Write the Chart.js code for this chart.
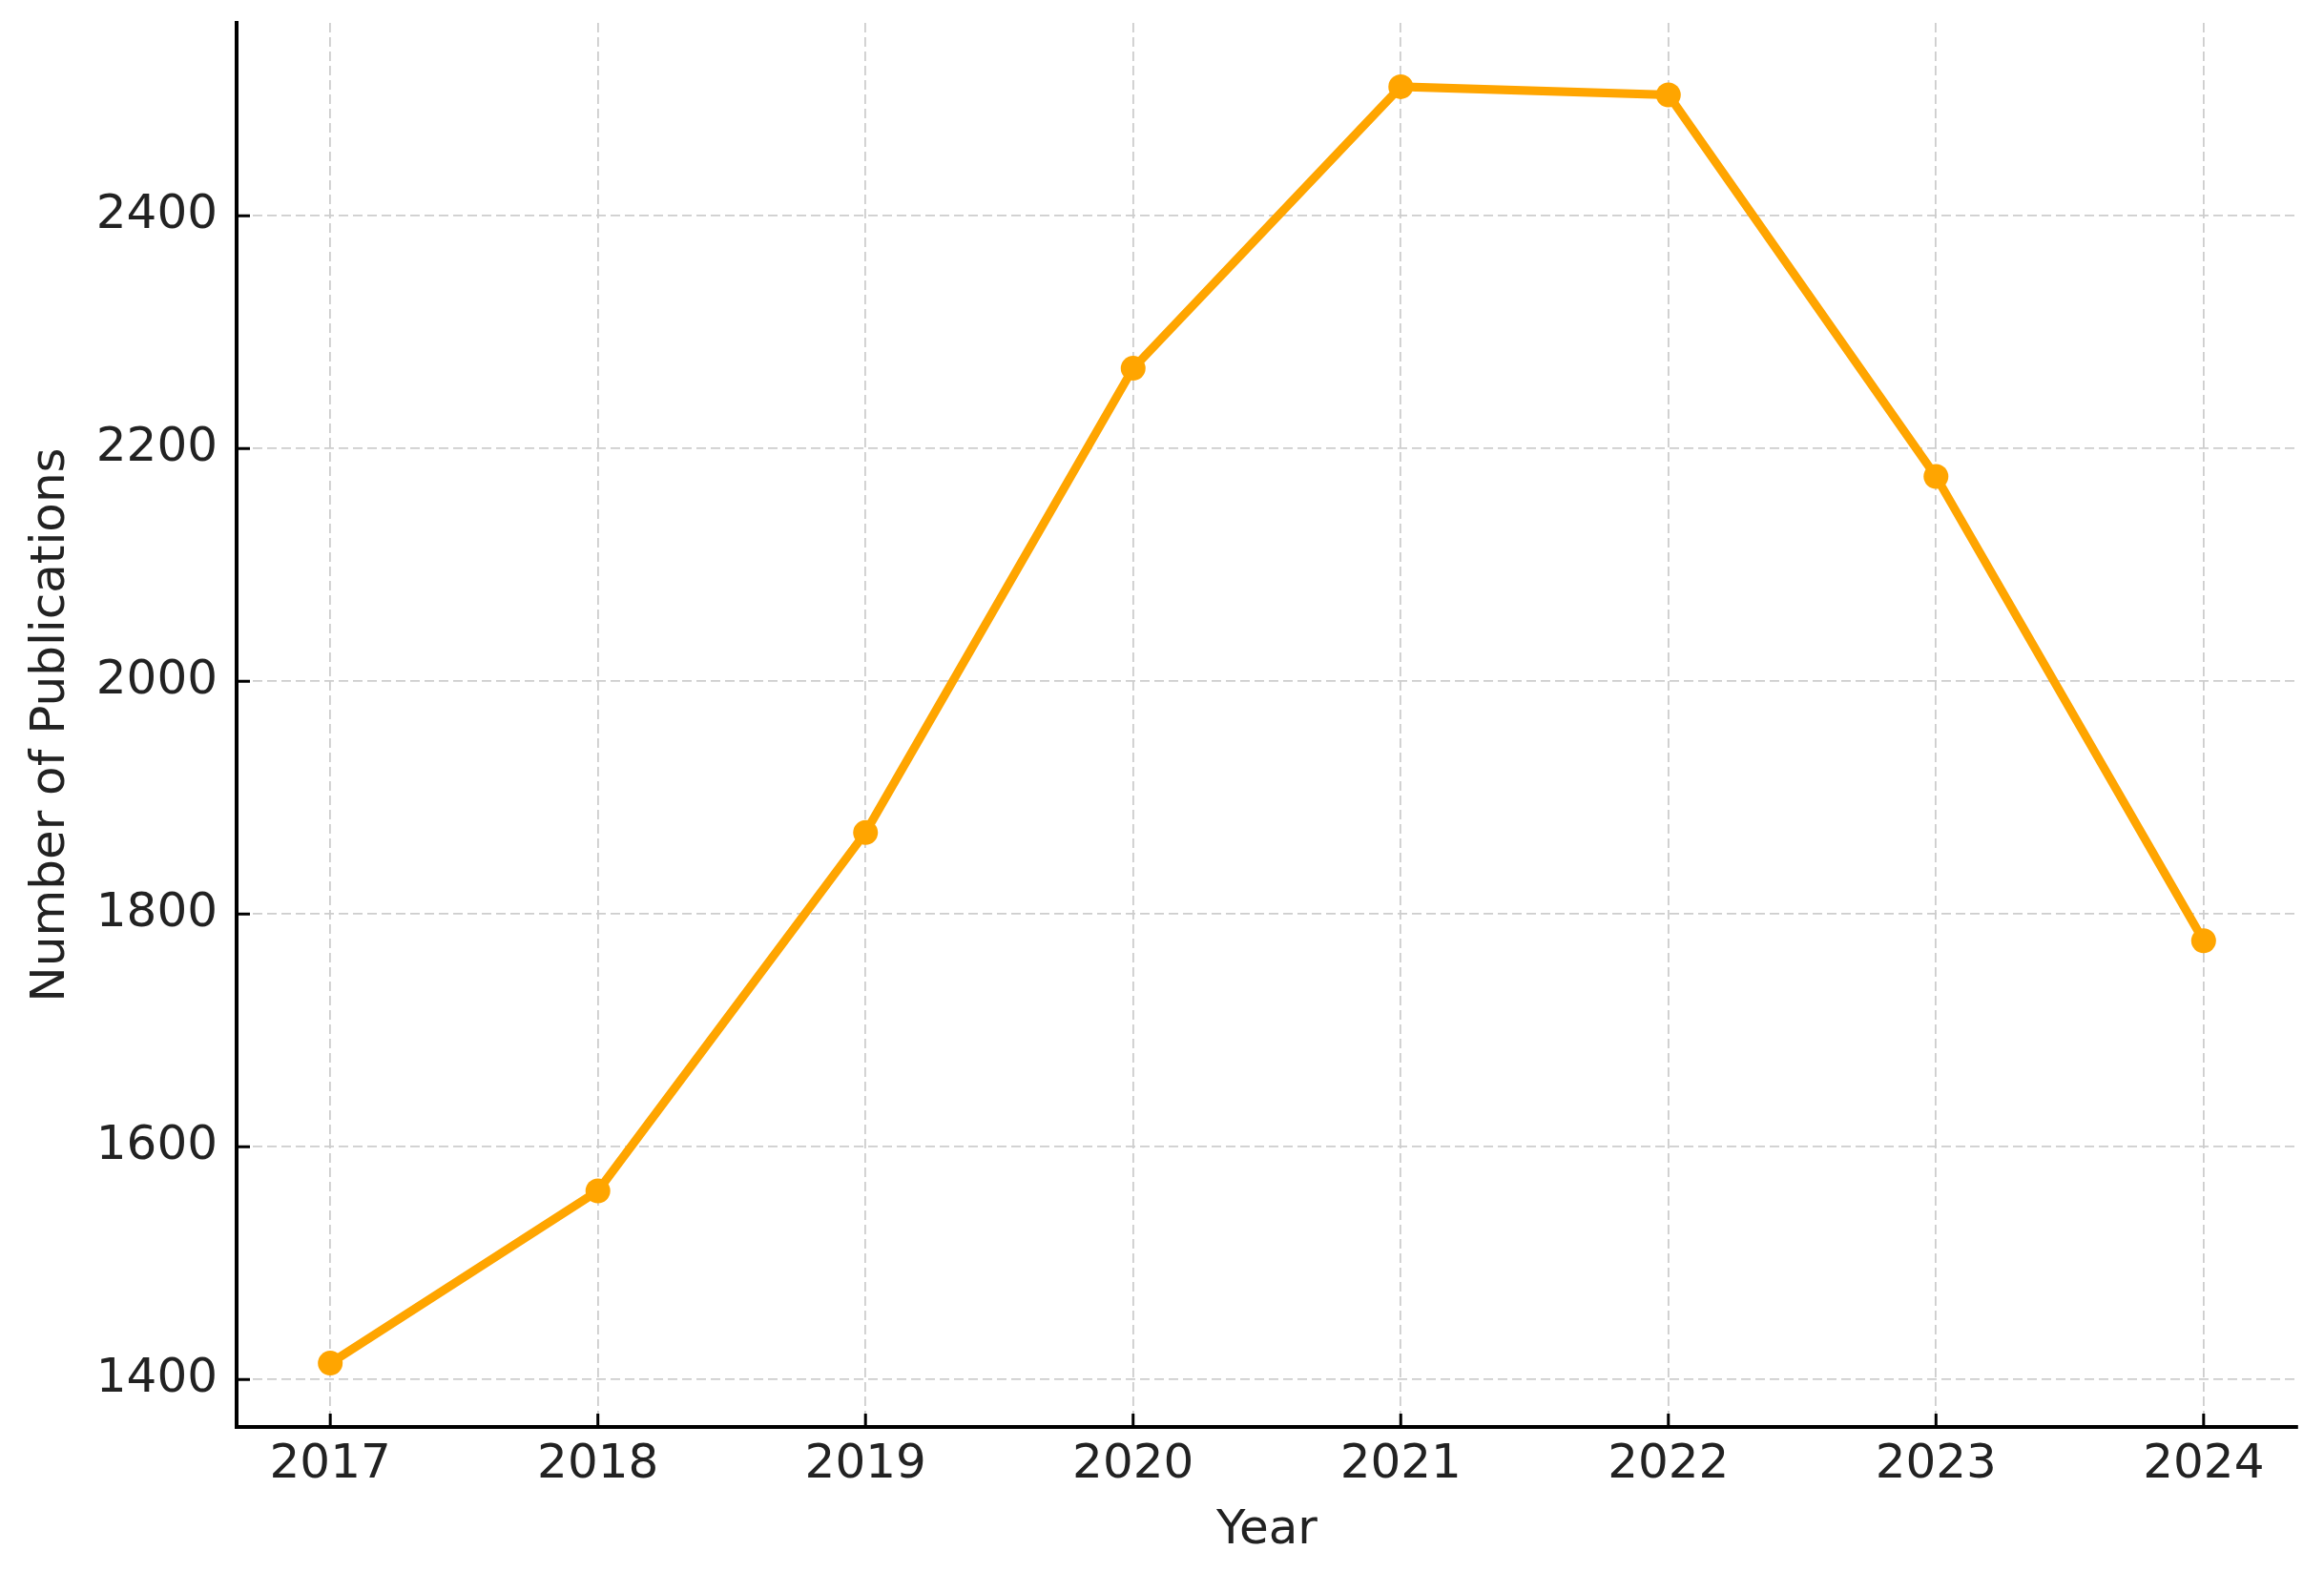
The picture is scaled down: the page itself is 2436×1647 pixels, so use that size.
<!DOCTYPE html>
<html>
<head>
<meta charset="utf-8">
<title>Number of Publications per Year</title>
<script src="https://cdn.jsdelivr.net/npm/chart.js@4.4.1/dist/chart.umd.min.js"></script>
<style>
  html, body { margin: 0; padding: 0; background: #fff; }
  canvas { display: block; }
</style>
</head>
<body>
<canvas id="pubChart" width="2436" height="1647"></canvas>
<script>
// values
const YEARS = [2017, 2018, 2019, 2020, 2021, 2022, 2023, 2024];
const PUBLICATIONS = [1414, 1562, 1870, 2269, 2511, 2504, 2176, 1777];
const Y_TICKS = [1400, 1600, 1800, 2000, 2200, 2400];

const LINE_COLOUR = '#ffa500';
const TEXT_COLOUR = '#222222';
const GRID_COLOUR = '#cdcdcd';
const FONT = { family: '"DejaVu Sans", sans-serif', size: 50 };

// matplotlib-style 5% margins around the data
function padded(min, max) {
  const m = (max - min) * 0.05;
  return [min - m, max + m];
}
const [xMin, xMax] = padded(YEARS[0], YEARS[YEARS.length - 1]);
const [yMin, yMax] = padded(Math.min(...PUBLICATIONS), Math.max(...PUBLICATIONS));

// short inward tick marks, like matplotlib's direction='in'
const innerTicks = {
  id: 'innerTicks',
  afterDraw(chart) {
    const { ctx, chartArea, scales } = chart;
    const len = 14;
    ctx.save();
    ctx.strokeStyle = '#000';
    ctx.lineWidth = 3;
    ctx.beginPath();
    YEARS.forEach(v => {
      const x = scales.x.getPixelForValue(v);
      ctx.moveTo(x, chartArea.bottom);
      ctx.lineTo(x, chartArea.bottom - len);
    });
    Y_TICKS.forEach(v => {
      const y = scales.y.getPixelForValue(v);
      ctx.moveTo(chartArea.left, y);
      ctx.lineTo(chartArea.left + len, y);
    });
    ctx.stroke();
    ctx.restore();
  },
};

new Chart(document.getElementById('pubChart').getContext('2d'), {
  type: 'line',
  data: {
    datasets: [{
      data: YEARS.map((y, i) => ({ x: y, y: PUBLICATIONS[i] })),
      borderColor: LINE_COLOUR,
      backgroundColor: LINE_COLOUR,
      borderWidth: 9,
      pointRadius: 13,
      pointBorderWidth: 0,
      pointBackgroundColor: LINE_COLOUR,
      tension: 0,
      fill: false,
    }],
  },
  options: {
    responsive: false,
    animation: false,
    devicePixelRatio: 1,
    layout: { padding: { top: 24, right: 28, left: 0, bottom: 0 } },
    plugins: {
      legend: { display: false },
      tooltip: { enabled: false },
    },
    scales: {
      x: {
        type: 'linear',
        min: xMin,
        max: xMax,
        afterBuildTicks: scale => { scale.ticks = YEARS.map(v => ({ value: v })); },
        afterFit: scale => {
          scale.height = 151;
          scale.paddingLeft = 0;
          scale.paddingRight = 0;
        },
        ticks: {
          color: TEXT_COLOUR,
          font: FONT,
          padding: 10,
          callback: v => String(v),
        },
        grid: {
          color: GRID_COLOUR,
          lineWidth: 1.8,
          drawTicks: false,
        },
        border: { display: true, color: '#000', width: 4, dash: [10, 5] },
        title: {
          display: true,
          text: 'Year',
          color: TEXT_COLOUR,
          font: FONT,
          padding: { top: 0, bottom: 12 },
        },
      },
      y: {
        type: 'linear',
        min: yMin,
        max: yMax,
        afterBuildTicks: scale => { scale.ticks = Y_TICKS.map(v => ({ value: v })); },
        afterFit: scale => {
          scale.width = 248;
          scale.paddingTop = 0;
          scale.paddingBottom = 0;
        },
        ticks: {
          color: TEXT_COLOUR,
          font: FONT,
          padding: 20,
          callback: v => String(v),
        },
        grid: {
          color: GRID_COLOUR,
          lineWidth: 1.8,
          drawTicks: false,
        },
        border: { display: true, color: '#000', width: 4, dash: [10, 5] },
        title: {
          display: true,
          text: 'Number of Publications',
          color: TEXT_COLOUR,
          font: FONT,
          padding: { top: 24, bottom: 0 },
        },
      },
    },
  },
  plugins: [innerTicks],
});
</script>
</body>
</html>
